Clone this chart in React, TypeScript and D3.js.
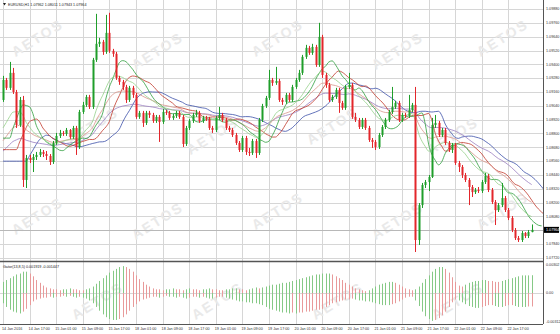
import React from "react";
import * as d3 from "d3";

const W = 560;
const H = 334;

const timeLabels = [
  "14 Jan 2016", "14 Jan 17:00", "15 Jan 01:00", "15 Jan 09:00", "15 Jan 17:00",
  "18 Jan 01:00", "18 Jan 09:00", "18 Jan 17:00", "19 Jan 01:00", "19 Jan 09:00",
  "19 Jan 17:00", "20 Jan 01:00", "20 Jan 09:00", "20 Jan 17:00", "21 Jan 01:00",
  "21 Jan 09:00", "21 Jan 17:00", "22 Jan 01:00", "22 Jan 09:00", "22 Jan 17:00",
];

const priceTicks = [
  1.0772, 1.0784, 1.0796, 1.0808, 1.082, 1.0832, 1.0844, 1.0856, 1.0868, 1.088,
  1.0892, 1.0904, 1.0916, 1.0928, 1.094, 1.0952, 1.0964, 1.0976, 1.0988,
];

const oscTicks = [-0.00312, 0, 0.00302];

const firstOpen = 1.09091;

const closes = [
  1.09265, 1.09196, 1.09326, 1.0916, 1.08874, 1.09091, 1.08397, 1.08588, 1.0857, 1.08596,
  1.08614, 1.0864, 1.08622, 1.08605, 1.08553, 1.08718, 1.08779, 1.08805, 1.08796, 1.08831,
  1.0877, 1.08848, 1.08683, 1.08987, 1.09048, 1.09117, 1.09031, 1.09439, 1.09578, 1.09595,
  1.09508, 1.09673, 1.09517, 1.09491, 1.09282, 1.09248, 1.09204, 1.09091, 1.09196, 1.09135,
  1.08944, 1.08979, 1.08892, 1.08979, 1.08961, 1.08909, 1.08944, 1.089, 1.08987, 1.08979,
  1.08935, 1.08953, 1.08979, 1.08944, 1.08709, 1.08848, 1.08909, 1.08961, 1.08979, 1.08909,
  1.08935, 1.08927, 1.08848, 1.08831, 1.08935, 1.08961, 1.08918, 1.08848, 1.08831, 1.08787,
  1.08718, 1.08657, 1.08761, 1.0864, 1.08631, 1.08735, 1.08631, 1.08918, 1.09039, 1.09109,
  1.09265, 1.09239, 1.09256, 1.09091, 1.09074, 1.09135, 1.09091, 1.09204, 1.09265, 1.09326,
  1.09465, 1.09543, 1.09499, 1.09551, 1.09395, 1.09638, 1.09308, 1.09222, 1.09091, 1.09117,
  1.09178, 1.09065, 1.09022, 1.09204, 1.09222, 1.08944, 1.08918, 1.08857, 1.08918, 1.08848,
  1.08744, 1.08727, 1.08683, 1.08787, 1.08857, 1.08918, 1.08987, 1.09031, 1.09065, 1.08918,
  1.08961, 1.08953, 1.09005, 1.09048, 1.07876, 1.08179, 1.08353, 1.08379, 1.08423, 1.08874,
  1.08892, 1.08787, 1.08831, 1.08718, 1.08657, 1.08701, 1.08544, 1.0851, 1.0844, 1.08397,
  1.08336, 1.08292, 1.0831, 1.08301, 1.08379, 1.08431, 1.0831, 1.08206, 1.08136, 1.08179,
  1.0824, 1.08136, 1.08067, 1.07963, 1.07893, 1.07876, 1.07937, 1.07911, 1.07945, 1.07964,
];

const highs = [
  1.093, 1.09282, 1.09421, 1.09369, 1.09178, 1.09117, 1.09126, 1.08614, 1.08614, 1.08622,
  1.0864, 1.08666, 1.08657, 1.08648, 1.08622, 1.08735, 1.08805, 1.08831, 1.08822, 1.08848,
  1.08839, 1.08866, 1.08866, 1.09005, 1.09074, 1.09135, 1.09135, 1.09456, 1.09838, 1.0963,
  1.09612, 1.09829, 1.09847, 1.09534, 1.09508, 1.093, 1.09265, 1.09222, 1.09213, 1.09213,
  1.09152, 1.08996, 1.08996, 1.08996, 1.08996, 1.08979, 1.08961, 1.08961, 1.09013, 1.09005,
  1.08996, 1.0897, 1.08996, 1.08996, 1.08961, 1.08866, 1.08927, 1.08979, 1.09005, 1.08996,
  1.08953, 1.08953, 1.08944, 1.08866, 1.08953, 1.09031, 1.08979, 1.08935, 1.08866, 1.08848,
  1.08805, 1.08735, 1.08779, 1.08779, 1.08675, 1.08753, 1.08753, 1.08935, 1.09057, 1.09126,
  1.09352, 1.09282, 1.09378, 1.09274, 1.09109, 1.09152, 1.09152, 1.09222, 1.09282, 1.09352,
  1.09482, 1.09569, 1.0956, 1.09578, 1.09569, 1.0976, 1.09656, 1.09326, 1.09239, 1.09135,
  1.09196, 1.09196, 1.09083, 1.09222, 1.09326, 1.09239, 1.08979, 1.08935, 1.08935, 1.08935,
  1.08866, 1.08761, 1.08744, 1.08805, 1.08874, 1.08935, 1.09005, 1.09204, 1.09083, 1.09083,
  1.08979, 1.08979, 1.09135, 1.09065, 1.09204, 1.08197, 1.08371, 1.08397, 1.0844, 1.08935,
  1.08961, 1.08909, 1.08848, 1.08848, 1.08735, 1.08718, 1.08718, 1.08562, 1.08527, 1.08458,
  1.08414, 1.08353, 1.08327, 1.08336, 1.08397, 1.08458, 1.08449, 1.08327, 1.08223, 1.08197,
  1.08371, 1.08258, 1.08154, 1.08084, 1.0798, 1.07911, 1.07954, 1.07945, 1.07963, 1.08011,
];

const lows = [
  1.09074, 1.09178, 1.09178, 1.09143, 1.08848, 1.08857, 1.08336, 1.08327, 1.08544, 1.08466,
  1.0857, 1.08596, 1.08596, 1.0857, 1.08527, 1.08536, 1.08701, 1.08761, 1.08779, 1.08779,
  1.08753, 1.08753, 1.08614, 1.08666, 1.0897, 1.09031, 1.09013, 1.09013, 1.09421, 1.09551,
  1.09482, 1.09491, 1.09499, 1.09465, 1.09265, 1.09222, 1.09178, 1.09065, 1.09074, 1.09109,
  1.08927, 1.08927, 1.08857, 1.08874, 1.08935, 1.08892, 1.08892, 1.08727, 1.08883, 1.08961,
  1.08918, 1.08918, 1.08935, 1.08927, 1.08683, 1.08692, 1.08831, 1.08892, 1.08944, 1.08892,
  1.08892, 1.08909, 1.08831, 1.08805, 1.08813, 1.08918, 1.089, 1.08831, 1.08813, 1.0877,
  1.08701, 1.0864, 1.0864, 1.08614, 1.08605, 1.08614, 1.08588, 1.08614, 1.089, 1.09022,
  1.09091, 1.09213, 1.09222, 1.09074, 1.09048, 1.09057, 1.09074, 1.09074, 1.09187, 1.09248,
  1.09308, 1.09447, 1.09482, 1.09482, 1.09378, 1.09378, 1.09282, 1.09196, 1.09074, 1.09074,
  1.091, 1.08979, 1.09005, 1.09005, 1.09187, 1.08927, 1.089, 1.08839, 1.08839, 1.08831,
  1.08727, 1.08675, 1.08657, 1.08666, 1.0877, 1.08839, 1.089, 1.0897, 1.09013, 1.089,
  1.089, 1.08935, 1.08935, 1.08987, 1.07772, 1.07833, 1.08154, 1.08327, 1.08301, 1.08414,
  1.08848, 1.0877, 1.0877, 1.08701, 1.0864, 1.08631, 1.08527, 1.08466, 1.08414, 1.08379,
  1.08179, 1.08249, 1.08275, 1.08284, 1.08284, 1.08362, 1.08292, 1.08188, 1.08006, 1.08119,
  1.08162, 1.08119, 1.08049, 1.07945, 1.07876, 1.07859, 1.07859, 1.07893, 1.07893, 1.07943,
];

// Gator oscillator bars (upper = above zero, lower = below zero)
const gatorUpper = [
  0.0012, 0.0014, 0.0016, 0.0018, 0.002, 0.0021, 0.0023, 0.0023, 0.0021, 0.0018,
  0.0014, 0.0011, 0.0008, 0.0006, 0.0005, 0.0004, 0.0004, 0.0003, 0.0004, 0.0004,
  0.0005, 0.0004, 0.0004, 0.0003, 0.0003, 0.0004, 0.0005, 0.0007, 0.001, 0.0013,
  0.0016, 0.0019, 0.0022, 0.0024, 0.0026, 0.0028, 0.0029, 0.0028, 0.0026, 0.0023,
  0.0019, 0.0015, 0.0012, 0.0009, 0.0007, 0.0005, 0.0004, 0.0004, 0.0003, 0.0004,
  0.0004, 0.0005, 0.0004, 0.0004, 0.0003, 0.0004, 0.0005, 0.0004, 0.0004, 0.0003,
  0.0004, 0.0004, 0.0005, 0.0004, 0.0004, 0.0003, 0.0003, 0.0004, 0.0004, 0.0005,
  0.0005, 0.0004, 0.0004, 0.0003, 0.0004, 0.0005, 0.0006, 0.0005, 0.0006, 0.0007,
  0.0008, 0.0009, 0.0009, 0.001, 0.0011, 0.0011, 0.0012, 0.0013, 0.0014, 0.0015,
  0.0016, 0.0017, 0.0018, 0.0019, 0.002, 0.002, 0.0021, 0.0021, 0.0021, 0.002,
  0.0018, 0.0016, 0.0014, 0.0011, 0.0009, 0.0007, 0.0005, 0.0004, 0.0003, 0.0002,
  0.0003, 0.0005, 0.0007, 0.0009, 0.001, 0.0011, 0.0012, 0.0012, 0.0011, 0.0009,
  0.0007, 0.0005, 0.0004, 0.0003, 0.0004, 0.0007, 0.0011, 0.0015, 0.0019, 0.0023,
  0.0026, 0.0028, 0.0028, 0.0026, 0.0022, 0.0017, 0.0012, 0.0008, 0.0007, 0.0009,
  0.0011, 0.0012, 0.0013, 0.0013, 0.0014, 0.0014, 0.0013, 0.0013, 0.0012, 0.0012,
  0.0013, 0.0014, 0.0015, 0.0016, 0.0017, 0.0018, 0.0019, 0.0019, 0.0019, 0.001919,
];

const gatorLower = [
  -0.0011, -0.0015, -0.0018, -0.002, -0.0021, -0.0022, -0.002, -0.0017, -0.0013, -0.0009,
  -0.0007, -0.0006, -0.0005, -0.0005, -0.0004, -0.0005, -0.0004, -0.0004, -0.0003, -0.0004,
  -0.0003, -0.0004, -0.0005, -0.0004, -0.0005, -0.0006, -0.0008, -0.0011, -0.0015, -0.0019,
  -0.0023, -0.0026, -0.0028, -0.0029, -0.0029, -0.0028, -0.0026, -0.0023, -0.0019, -0.0015,
  -0.0012, -0.0009, -0.0007, -0.0006, -0.0005, -0.0004, -0.0004, -0.0005, -0.0004, -0.0003,
  -0.0004, -0.0004, -0.0005, -0.0004, -0.0005, -0.0006, -0.0005, -0.0004, -0.0004, -0.0005,
  -0.0004, -0.0005, -0.0006, -0.0006, -0.0005, -0.0004, -0.0004, -0.0005, -0.0006, -0.0007,
  -0.0008, -0.0009, -0.0009, -0.001, -0.001, -0.0011, -0.0011, -0.0012, -0.0013, -0.0015,
  -0.0017, -0.0018, -0.0019, -0.002, -0.0021, -0.0021, -0.0022, -0.0021, -0.0022, -0.0021,
  -0.0021, -0.002, -0.002, -0.0019, -0.0018, -0.0018, -0.0017, -0.0015, -0.0013, -0.0011,
  -0.001, -0.0009, -0.0008, -0.0007, -0.0007, -0.0006, -0.0007, -0.0008, -0.0008, -0.0009,
  -0.0009, -0.001, -0.0011, -0.0012, -0.0013, -0.0013, -0.0013, -0.0012, -0.0011, -0.0009,
  -0.0007, -0.0005, -0.0004, -0.0004, -0.0008, -0.0014, -0.002, -0.0025, -0.0028, -0.003,
  -0.0029, -0.0027, -0.0024, -0.002, -0.0015, -0.001, -0.0007, -0.0008, -0.001, -0.0012,
  -0.0014, -0.0015, -0.0016, -0.0016, -0.0015, -0.0014, -0.0013, -0.0013, -0.0014, -0.0015,
  -0.0015, -0.0014, -0.0013, -0.0013, -0.0014, -0.0015, -0.0015, -0.0015, -0.00145, -0.001447,
];

// Alligator + moving averages; seeds are the line levels read at the chart's left edge
const lineSpecs = [
  { name: "jaw", period: 13, shift: 8, seed: 1.0856, color: "#3b4fa8" },
  { name: "ma21", period: 21, shift: 0, seed: 1.0862, color: "#9a7fc0" },
  { name: "teeth", period: 8, shift: 5, seed: 1.0866, color: "#c0392b" },
  { name: "ma13", period: 13, shift: 0, seed: 1.087, color: "#d9968a" },
  { name: "lips", period: 5, shift: 3, seed: 1.0876, color: "#2e9e3e" },
  { name: "ma8", period: 8, shift: 0, seed: 1.088, color: "#96d08a" },
];

function smma(src: number[], n: number, seed: number): number[] {
  let prev = seed;
  return src.map((v) => {
    prev = (prev * (n - 1) + v) / n;
    return prev;
  });
}

export default function App() {
  const n = closes.length;
  const opens = closes.map((c, i) => (i === 0 ? firstOpen : closes[i - 1]));
  const median = highs.map((h, i) => (h + lows[i]) / 2);

  const plotRight = 543;
  const mainBottom = 261;
  const oscTop = 262;
  const oscBottom = 324;

  const x = d3.scaleLinear().domain([0, 160]).range([3, 535]);
  const y = d3.scaleLinear().domain([1.0772, 1.0988]).range([258, 9]);
  const yo = d3.scaleLinear().domain([-0.00312, 0.00302]).range([322, 265]).clamp(true);

  const lines = lineSpecs.map((s) => {
    const base = smma(median, s.period, s.seed);
    const pts: [number, number][] = [];
    for (let j = 0; j < n + s.shift; j++) {
      const k = j - s.shift;
      pts.push([j, k >= 0 ? base[k] : s.seed]);
    }
    return { ...s, pts };
  });
  const lineGen = d3
    .line<[number, number]>()
    .x((d) => x(d[0]))
    .y((d) => y(d[1]))
    .curve(d3.curveMonotoneX);

  const gridX = timeLabels.map((_, k) => x(k * 8));
  const bull = "#1f9e2a";
  const bear = "#e3262b";
  const upCol = "#86c986";
  const downCol = "#e89a9a";
  const font = "'Liberation Sans', Arial, sans-serif";

  const barColor = (arr: number[], i: number) => {
    let k = i;
    while (k > 0 && Math.abs(arr[k]) === Math.abs(arr[k - 1])) k--;
    if (k === 0) return upCol;
    return Math.abs(arr[k]) > Math.abs(arr[k - 1]) ? upCol : downCol;
  };

  const marks: [number, number][] = [
    [40, 42], [160, 55], [280, 42], [400, 55], [505, 42],
    [95, 130], [215, 140], [335, 130], [455, 140],
    [40, 220], [160, 225], [280, 215], [400, 225], [505, 215],
    [100, 305], [220, 305], [340, 305], [460, 305],
  ];

  const last = closes[n - 1];
  const fs = 3.7;

  return (
    <svg
      width={W}
      height={H}
      style={{ position: "absolute", left: 0, top: 0, background: "#fff" }}
      fontFamily={font}
    >
      <defs>
        <clipPath id="mainClip">
          <rect x={0} y={0} width={plotRight} height={mainBottom} />
        </clipPath>
        <clipPath id="oscClip">
          <rect x={0} y={oscTop} width={plotRight} height={oscBottom - oscTop} />
        </clipPath>
      </defs>
      <rect x={0} y={0} width={W} height={H} fill="#fff" />

      {/* grid */}
      <g stroke="#d6d6d6" strokeWidth={1}>
        {priceTicks.map((p) => (
          <line key={p} x1={0} x2={plotRight} y1={Math.round(y(p)) + 0.5} y2={Math.round(y(p)) + 0.5} />
        ))}
        {gridX.map((gx, k) => (
          <line key={k} x1={Math.round(gx) + 0.5} x2={Math.round(gx) + 0.5} y1={0} y2={oscBottom} />
        ))}
        <line x1={0} x2={plotRight} y1={Math.round(yo(0)) + 0.5} y2={Math.round(yo(0)) + 0.5} />
      </g>

      {/* watermark */}
      <g fill="#e9e9e9" fontWeight="bold" fontSize={14} letterSpacing={2}>
        {marks.map(([mx, my], k) => (
          <text key={k} x={mx} y={my} textAnchor="middle" transform={`rotate(-32 ${mx} ${my})`}>
            AETOS
          </text>
        ))}
      </g>

      {/* price line */}
      <line x1={0} x2={plotRight} y1={Math.round(y(last)) + 0.5} y2={Math.round(y(last)) + 0.5} stroke="#b8b8b8" />

      {/* indicator lines */}
      <g clipPath="url(#mainClip)" fill="none" strokeWidth={0.8}>
        {lines.map((l) => (
          <path key={l.name} d={lineGen(l.pts) || ""} stroke={l.color} />
        ))}
      </g>

      {/* candles */}
      <g clipPath="url(#mainClip)">
        {closes.map((c, i) => {
          const o = opens[i];
          const up = c >= o;
          const col = up ? bull : bear;
          const cx = Math.round(x(i));
          const top = y(Math.max(o, c));
          const bot = y(Math.min(o, c));
          return (
            <g key={i}>
              <line x1={cx + 0.5} x2={cx + 0.5} y1={y(highs[i])} y2={y(lows[i])} stroke={col} strokeWidth={1} />
              <rect x={cx - 0.5} y={top} width={2} height={Math.max(1, bot - top)} fill={col} />
            </g>
          );
        })}
      </g>

      {/* oscillator */}
      <g clipPath="url(#oscClip)">
        {gatorUpper.map((v, i) => (
          <line
            key={"u" + i}
            x1={Math.round(x(i)) + 0.5}
            x2={Math.round(x(i)) + 0.5}
            y1={yo(0)}
            y2={yo(v)}
            stroke={barColor(gatorUpper, i)}
          />
        ))}
        {gatorLower.map((v, i) => (
          <line
            key={"l" + i}
            x1={Math.round(x(i)) + 0.5}
            x2={Math.round(x(i)) + 0.5}
            y1={yo(0)}
            y2={yo(v)}
            stroke={barColor(gatorLower, i)}
          />
        ))}
      </g>

      {/* frames */}
      <g stroke="#555" fill="none">
        <line x1={plotRight + 0.5} x2={plotRight + 0.5} y1={0} y2={oscBottom} />
        <line x1={0} x2={plotRight} y1={mainBottom + 0.5} y2={mainBottom + 0.5} strokeWidth={1.5} />
        <line x1={0} x2={plotRight} y1={oscBottom + 0.5} y2={oscBottom + 0.5} />
      </g>

      {/* price axis labels */}
      <g fontSize={fs} fill="#333">
        {priceTicks.map((p) => (
          <text key={p} x={plotRight + 3} y={y(p) + 1.3}>
            {p.toFixed(5)}
          </text>
        ))}
        {oscTicks.map((p) => (
          <text key={p} x={plotRight + 3} y={yo(p) + 1.3}>
            {p === 0 ? "0.00" : p.toFixed(5)}
          </text>
        ))}
      </g>
      <rect x={plotRight + 1} y={y(last) - 3} width={W - plotRight - 2} height={6} fill="#000" />
      <text x={plotRight + 3} y={y(last) + 1.3} fontSize={fs} fill="#fff">
        {last.toFixed(5)}
      </text>

      {/* time axis labels */}
      <g fontSize={fs} fill="#333">
        {timeLabels.map((t, k) => (
          <text key={t} x={gridX[k] - 1} y={330}>
            {t}
          </text>
        ))}
      </g>

      {/* headers */}
      <g fontSize={fs} fill="#222">
        <path d="M3,3 L6,3 L4.5,5.5 Z" fill="#222" />
        <text x={8} y={6}>EURUSD,H1  1.07962 1.08011 1.07943 1.07964</text>
        <text x={3} y={268}>Gator(13,8,5) 0.001919 -0.001447</text>
      </g>
    </svg>
  );
}
